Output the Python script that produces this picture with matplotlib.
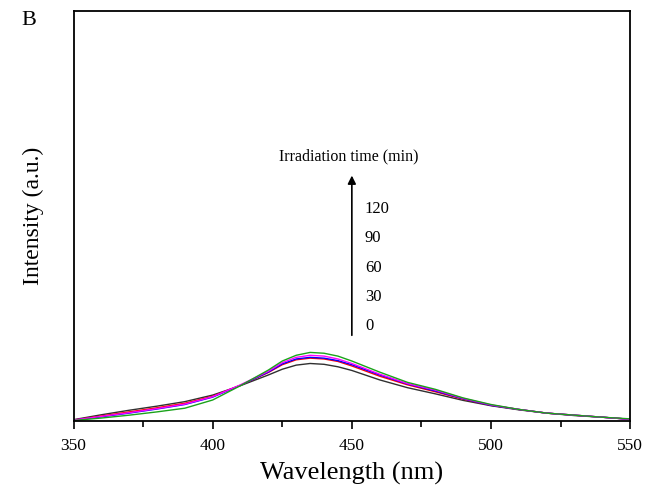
import numpy as np
import matplotlib
matplotlib.use("Agg")
import matplotlib.pyplot as plt
from matplotlib.ticker import MultipleLocator

## fluorescence spectra (arbitrary units)
wavelength = [350, 360, 370, 380, 390, 400, 410, 420, 425, 430, 435, 440, 445,
              450, 460, 470, 480, 490, 500, 510, 520, 530, 540, 550]

int_0 = [0.3, 1.5, 2.6, 3.6, 4.7, 6.3, 8.6, 11.2, 12.6, 13.6, 14.0, 13.8, 13.2,
         12.3, 10.0, 8.1, 6.6, 5.0, 3.7, 2.7, 1.9, 1.3, 0.9, 0.4]
int_30 = [0.2, 1.2, 2.2, 3.2, 4.3, 6.0, 8.7, 11.8, 13.7, 14.9, 15.3, 15.1, 14.5,
          13.4, 10.9, 8.8, 7.1, 5.3, 3.8, 2.8, 1.9, 1.4, 0.9, 0.4]
int_60 = [0.2, 1.0, 1.9, 2.9, 4.0, 5.8, 8.7, 11.9, 13.9, 15.1, 15.5, 15.3, 14.7,
          13.7, 11.2, 9.0, 7.3, 5.4, 3.8, 2.8, 1.9, 1.4, 0.9, 0.4]
int_90 = [0.2, 1.1, 2.0, 3.0, 4.1, 5.9, 8.8, 12.1, 14.2, 15.5, 16.0, 15.8, 15.1,
          14.0, 11.4, 9.1, 7.5, 5.5, 3.9, 2.8, 1.9, 1.4, 0.9, 0.4]
int_120 = [0.1, 0.7, 1.4, 2.2, 3.1, 5.1, 8.6, 12.4, 14.6, 16.0, 16.7, 16.5, 15.8,
           14.6, 11.9, 9.4, 7.7, 5.6, 4.0, 2.8, 1.9, 1.4, 0.9, 0.5]

series = [int_0, int_30, int_60, int_90, int_120]
colors = ["#303030", "#ff0000", "#0000ff", "#ff00ff", "#1aa31a"]
time_labels = ["120", "90", "60", "30", "0"]

plt.rcParams["font.family"] = ["Liberation Serif", "DejaVu Serif"]

fig = plt.figure(figsize=(6.45, 4.9), dpi=100)
ax = fig.add_axes([0.114, 0.141, 0.863, 0.837])

for vals, c in zip(series, colors):
    ax.plot(wavelength, vals, color=c, lw=1.0)

ax.set_xlim(350, 550)
ax.set_ylim(0, 100)
ax.xaxis.set_major_locator(MultipleLocator(50))
ax.xaxis.set_minor_locator(MultipleLocator(25))
ax.tick_params(axis="x", which="major", direction="out", length=6, width=1.2,
               labelsize=12.5, pad=6)
ax.tick_params(axis="x", which="minor", direction="out", length=4, width=1.2)
ax.set_yticks([])
for sp in ax.spines.values():
    sp.set_linewidth(1.3)

ax.set_xlabel("Wavelength (nm)", fontsize=19, labelpad=6)
ax.set_ylabel("Intensity (a.u.)", fontsize=17, labelpad=21)

## arrow + annotation
ax.annotate("", xy=(450, 60.5), xytext=(450, 20.2),
            arrowprops=dict(arrowstyle="-|>", color="black", lw=1.2,
                            mutation_scale=12))
ax.text(449, 64.5, "Irradiation time (min)", ha="center", va="center", fontsize=11.5)
label_y = [51.7, 44.5, 37.4, 30.3, 23.2]
for lab, yy in zip(time_labels, label_y):
    ax.text(454.7, yy, lab, ha="left", va="center", fontsize=12)

fig.text(0.045, 0.958, "B", ha="center", va="center", fontsize=16)

fig.savefig("out.png", dpi=100)
